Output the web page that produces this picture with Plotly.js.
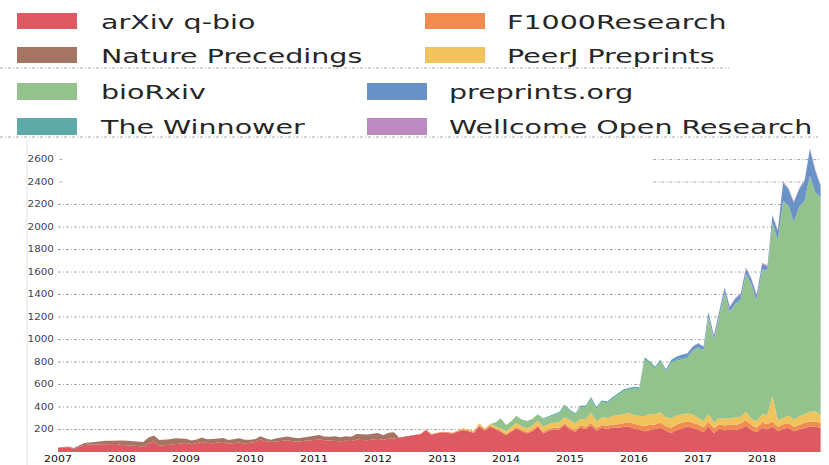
<!DOCTYPE html>
<html>
<head>
<meta charset="utf-8">
<script src="https://cdn.plot.ly/plotly-3.0.1.min.js"></script>
<style>
  html, body { margin: 0; padding: 0; background: #fff; }
  #chart { width: 829px; height: 465px; }
</style>
</head>
<body>
<div id="chart"></div>
<script>
// ---------------- DATA (monthly submissions, Jan 2007 - Dec 2018) ----------------
const seriesNames = ["arXiv q-bio", "Nature Precedings", "F1000Research", "PeerJ Preprints",
                     "bioRxiv", "The Winnower", "preprints.org", "Wellcome Open Research"];
const yearLabels = ["2007","2008","2009","2010","2011","2012","2013","2014","2015","2016","2017","2018"];
const yTickValues = [200,400,600,800,1000,1200,1400,1600,1800,2000,2200,2400,2600];

const arxivQbio = [
  35, 38, 42, 30, 45, 62, 66, 68, 70, 72, 70, 72,          // 2007
  62, 60, 56, 54, 45, 72, 100, 56, 60, 64, 70, 72,         // 2008
  80, 70, 78, 88, 80, 78, 84, 88, 74, 80, 84, 76,          // 2009
  82, 88, 112, 95, 88, 93, 98, 104, 96, 92, 98, 104,       // 2010
  106, 112, 104, 100, 102, 95, 100, 98, 110, 108, 105, 112, // 2011
  115, 108, 118, 120, 128, 132, 142, 148, 160, 195, 155, 165, // 2012
  175, 170, 165, 180, 195, 185, 170, 230, 190, 225, 205, 180, // 2013
  150, 180, 210, 185, 165, 185, 225, 165, 190, 200, 200, 240, // 2014
  200, 180, 215, 205, 235, 190, 215, 205, 215, 215, 220, 230, // 2015
  206, 200, 185, 195, 200, 215, 190, 170, 195, 206, 227, 215, // 2016
  200, 176, 227, 167, 206, 194, 200, 195, 205, 233, 195, 176, // 2017
  215, 200, 227, 185, 206, 215, 185, 200, 215, 227, 225, 215  // 2018
];
const naturePrecedings = [
  5, 6, 7, 5, 10, 17, 19, 24, 26, 28, 31, 31,               // 2007
  41, 40, 40, 42, 43, 57, 47, 50, 48, 50, 53, 51,           // 2008
  38, 33, 34, 41, 33, 38, 38, 37, 32, 36, 38, 32,           // 2009
  26, 27, 28, 25, 22, 29, 32, 34, 32, 30, 30, 31,           // 2010
  34, 40, 34, 35, 38, 37, 40, 38, 50, 50, 50, 50,           // 2011
  53, 42, 54, 55, 0, 0, 0, 0, 0, 0, 0, 0,                   // 2012
  0, 0, 0, 0, 0, 0, 0, 0, 0, 0, 0, 0,                       // 2013
  0, 0, 0, 0, 0, 0, 0, 0, 0, 0, 0, 0,                       // 2014
  0, 0, 0, 0, 0, 0, 0, 0, 0, 0, 0, 0,                       // 2015
  0, 0, 0, 0, 0, 0, 0, 0, 0, 0, 0, 0,                       // 2016
  0, 0, 0, 0, 0, 0, 0, 0, 0, 0, 0, 0,                       // 2017
  0, 0, 0, 0, 0, 0, 0, 0, 0, 0, 0, 0                        // 2018
];
const f1000Research = [
  0, 0, 0, 0, 0, 0, 0, 0, 0, 0, 0, 0,                       // 2007
  0, 0, 0, 0, 0, 0, 0, 0, 0, 0, 0, 0,                       // 2008
  0, 0, 0, 0, 0, 0, 0, 0, 0, 0, 0, 0,                       // 2009
  0, 0, 0, 0, 0, 0, 0, 0, 0, 0, 0, 0,                       // 2010
  0, 0, 0, 0, 0, 0, 0, 0, 0, 0, 0, 0,                       // 2011
  0, 0, 0, 0, 0, 0, 0, 0, 3, 5, 5, 6,                       // 2012
  6, 7, 7, 8, 8, 8, 8, 10, 10, 10, 10, 12,                  // 2013
  10, 10, 12, 12, 12, 12, 12, 14, 14, 15, 15, 15,           // 2014
  18, 18, 20, 20, 22, 22, 25, 28, 30, 32, 35, 35,           // 2015
  45, 40, 45, 50, 45, 48, 40, 45, 50, 55, 45, 45,           // 2016
  45, 45, 40, 45, 40, 42, 45, 45, 48, 50, 45, 40,           // 2017
  45, 50, 45, 40, 40, 40, 40, 40, 45, 45, 45, 45            // 2018
];
const peerjPreprints = [
  0, 0, 0, 0, 0, 0, 0, 0, 0, 0, 0, 0,                       // 2007
  0, 0, 0, 0, 0, 0, 0, 0, 0, 0, 0, 0,                       // 2008
  0, 0, 0, 0, 0, 0, 0, 0, 0, 0, 0, 0,                       // 2009
  0, 0, 0, 0, 0, 0, 0, 0, 0, 0, 0, 0,                       // 2010
  0, 0, 0, 0, 0, 0, 0, 0, 0, 0, 0, 0,                       // 2011
  0, 0, 0, 0, 0, 0, 0, 0, 0, 0, 0, 0,                       // 2012
  0, 0, 0, 5, 8, 10, 10, 15, 12, 15, 18, 20,                // 2013
  25, 30, 35, 30, 35, 38, 40, 45, 45, 45, 50, 55,           // 2014
  60, 55, 60, 65, 95, 60, 70, 70, 75, 80, 80, 85,           // 2015
  75, 80, 90, 95, 90, 90, 80, 85, 80, 75, 70, 75,           // 2016
  60, 55, 70, 50, 55, 60, 55, 65, 60, 75, 55, 55,           // 2017
  75, 80, 228, 60, 55, 70, 65, 75, 80, 85, 90, 70           // 2018
];
const bioRxiv = [
  0, 0, 0, 0, 0, 0, 0, 0, 0, 0, 0, 0,                       // 2007
  0, 0, 0, 0, 0, 0, 0, 0, 0, 0, 0, 0,                       // 2008
  0, 0, 0, 0, 0, 0, 0, 0, 0, 0, 0, 0,                       // 2009
  0, 0, 0, 0, 0, 0, 0, 0, 0, 0, 0, 0,                       // 2010
  0, 0, 0, 0, 0, 0, 0, 0, 0, 0, 0, 0,                       // 2011
  0, 0, 0, 0, 0, 0, 0, 0, 0, 0, 0, 0,                       // 2012
  0, 0, 0, 0, 0, 0, 0, 0, 0, 0, 30, 88,                     // 2013
  55, 55, 65, 63, 63, 60, 59, 70, 63, 70, 78, 98,           // 2014
  85, 80, 102, 110, 120, 112, 132, 131, 154, 177, 204, 204, // 2015
  238, 239, 505, 447, 409, 451, 404, 491, 486, 486, 492, 559, // 2016
  620, 621, 864, 729, 896, 1116, 941, 1007, 1039, 1223, 1192, 1071, // 2017
  1281, 1287, 1535, 1597, 1931, 1863, 1750, 1863, 1892, 2097, 1946, 1933 // 2018
];
const theWinnower = [
  0, 0, 0, 0, 0, 0, 0, 0, 0, 0, 0, 0,                       // 2007
  0, 0, 0, 0, 0, 0, 0, 0, 0, 0, 0, 0,                       // 2008
  0, 0, 0, 0, 0, 0, 0, 0, 0, 0, 0, 0,                       // 2009
  0, 0, 0, 0, 0, 0, 0, 0, 0, 0, 0, 0,                       // 2010
  0, 0, 0, 0, 0, 0, 0, 0, 0, 0, 0, 0,                       // 2011
  0, 0, 0, 0, 0, 0, 0, 0, 0, 0, 0, 0,                       // 2012
  0, 0, 0, 0, 0, 0, 0, 0, 0, 0, 0, 0,                       // 2013
  0, 0, 0, 0, 0, 0, 0, 6, 8, 10, 12, 12,                    // 2014
  12, 12, 14, 14, 16, 16, 16, 16, 16, 16, 16, 16,           // 2015
  16, 16, 18, 18, 16, 16, 16, 14, 14, 12, 12, 10,           // 2016
  10, 8, 8, 8, 6, 6, 6, 5, 5, 5, 4, 4,                      // 2017
  3, 3, 3, 3, 2, 2, 2, 2, 2, 2, 2, 2                        // 2018
];
const preprintsOrg = [
  0, 0, 0, 0, 0, 0, 0, 0, 0, 0, 0, 0,                       // 2007
  0, 0, 0, 0, 0, 0, 0, 0, 0, 0, 0, 0,                       // 2008
  0, 0, 0, 0, 0, 0, 0, 0, 0, 0, 0, 0,                       // 2009
  0, 0, 0, 0, 0, 0, 0, 0, 0, 0, 0, 0,                       // 2010
  0, 0, 0, 0, 0, 0, 0, 0, 0, 0, 0, 0,                       // 2011
  0, 0, 0, 0, 0, 0, 0, 0, 0, 0, 0, 0,                       // 2012
  0, 0, 0, 0, 0, 0, 0, 0, 0, 0, 0, 0,                       // 2013
  0, 0, 0, 0, 0, 0, 0, 0, 0, 0, 0, 0,                       // 2014
  0, 0, 0, 0, 0, 0, 0, 0, 0, 0, 0, 0,                       // 2015
  0, 0, 0, 0, 0, 0, 5, 15, 25, 30, 30, 30,                  // 2016
  30, 30, 35, 35, 40, 40, 40, 45, 45, 45, 45, 45,           // 2017
  50, 30, 60, 80, 160, 145, 175, 155, 175, 235, 190, 100    // 2018
];
const wellcomeOpenResearch = [
  0, 0, 0, 0, 0, 0, 0, 0, 0, 0, 0, 0,                       // 2007
  0, 0, 0, 0, 0, 0, 0, 0, 0, 0, 0, 0,                       // 2008
  0, 0, 0, 0, 0, 0, 0, 0, 0, 0, 0, 0,                       // 2009
  0, 0, 0, 0, 0, 0, 0, 0, 0, 0, 0, 0,                       // 2010
  0, 0, 0, 0, 0, 0, 0, 0, 0, 0, 0, 0,                       // 2011
  0, 0, 0, 0, 0, 0, 0, 0, 0, 0, 0, 0,                       // 2012
  0, 0, 0, 0, 0, 0, 0, 0, 0, 0, 0, 0,                       // 2013
  0, 0, 0, 0, 0, 0, 0, 0, 0, 0, 0, 0,                       // 2014
  0, 0, 0, 0, 0, 0, 0, 0, 0, 0, 0, 0,                       // 2015
  0, 0, 0, 0, 0, 0, 0, 0, 0, 0, 3, 5,                       // 2016
  5, 5, 6, 6, 7, 7, 8, 8, 8, 9, 9, 9,                       // 2017
  10, 10, 10, 10, 10, 10, 10, 10, 10, 10, 10, 10            // 2018
];

// month start dates (x categories)
const months = [];
yearLabels.forEach(y => { for (let m = 1; m <= 12; m++) months.push(y + "-" + String(m).padStart(2, "0") + "-01"); });

// ---------------- STYLE ----------------
const colors = {
  "arXiv q-bio": "#de5a62",
  "Nature Precedings": "#a57462",
  "F1000Research": "#f08c50",
  "PeerJ Preprints": "#f0c35c",
  "bioRxiv": "#93c28d",
  "The Winnower": "#5eaaa8",
  "preprints.org": "#6993c6",
  "Wellcome Open Research": "#bb8ac0"
};
const seriesData = {
  "arXiv q-bio": arxivQbio,
  "Nature Precedings": naturePrecedings,
  "F1000Research": f1000Research,
  "PeerJ Preprints": peerjPreprints,
  "bioRxiv": bioRxiv,
  "The Winnower": theWinnower,
  "preprints.org": preprintsOrg,
  "Wellcome Open Research": wellcomeOpenResearch
};

const traces = seriesNames.map(name => ({
  type: "scatter",
  x: months,
  y: seriesData[name],
  name: name,
  stackgroup: "one",
  mode: "lines",
  line: { width: 0, color: colors[name] },
  fillcolor: colors[name],
  hoverinfo: "skip",
  showlegend: false
}));

// geometry helpers (pixel -> paper), plot area: x 58..829, y 140..452
const L = 58, W = 771, T = 140, H = 312;
const px = x => (x - L) / W;
const py = y => (T + H - y) / H;

const shapes = [];
const gridStyle = { color: "#a8a8a8", width: 1, dash: "3px,2px,1px,2px" };
yTickValues.forEach(v => {
  if (v <= 2200) {
    shapes.push({ type: "line", xref: "x", yref: "y", x0: "2007-01-01", x1: "2018-12-01", y0: v, y1: v, line: gridStyle, layer: "below" });
  } else {
    shapes.push({ type: "line", xref: "x", yref: "y", x0: "2016-04-20", x1: "2018-12-01", y0: v, y1: v, line: gridStyle, layer: "below" });
    shapes.push({ type: "line", xref: "x", yref: "y", x0: "2007-01-10", x1: "2007-01-25", y0: v, y1: v, line: { color: "#a8a8a8", width: 1 }, layer: "below" });
  }
});
// faint dotted lines between the legend blocks
shapes.push({ type: "line", xref: "paper", yref: "paper", x0: px(0), x1: px(729), y0: py(68), y1: py(68), line: gridStyle });
shapes.push({ type: "line", xref: "paper", yref: "paper", x0: px(0), x1: px(818), y0: py(137), y1: py(137), line: gridStyle });
// left spine
shapes.push({ type: "line", xref: "paper", yref: "paper", x0: px(27), x1: px(27), y0: py(465), y1: py(140), line: { color: "#e2e2e2", width: 1 } });

// legend (swatches + labels)
const legendItems = [
  { name: "arXiv q-bio",            sx: 17,  tx: 99,  top: 13,  bot: 29,  cy: 21.5 },
  { name: "Nature Precedings",      sx: 17,  tx: 99,  top: 47,  bot: 63,  cy: 56 },
  { name: "bioRxiv",                sx: 17,  tx: 99,  top: 83,  bot: 100, cy: 92 },
  { name: "The Winnower",           sx: 17,  tx: 99,  top: 118, bot: 135, cy: 127 },
  { name: "F1000Research",          sx: 425, tx: 505, top: 13,  bot: 29,  cy: 21.5 },
  { name: "PeerJ Preprints",        sx: 425, tx: 505, top: 47,  bot: 63,  cy: 56 },
  { name: "preprints.org",          sx: 367, tx: 447, top: 83,  bot: 100, cy: 92 },
  { name: "Wellcome Open Research", sx: 367, tx: 447, top: 118, bot: 135, cy: 127 }
];
const annotations = [];
legendItems.forEach(it => {
  shapes.push({ type: "rect", xref: "paper", yref: "paper", x0: px(it.sx), x1: px(it.sx + 60), y0: py(it.bot), y1: py(it.top), fillcolor: colors[it.name], line: { width: 0 } });
  annotations.push({ xref: "paper", yref: "paper", x: px(it.tx), y: py(it.cy), xanchor: "left", yanchor: "middle",
    text: it.name, showarrow: false, font: { family: "DejaVu Sans", size: 19, color: "#262626" } });
});

const layout = {
  width: 829, height: 465,
  margin: { l: L, r: 0, t: T, b: 465 - T - H, pad: 0 },
  paper_bgcolor: "#ffffff", plot_bgcolor: "#ffffff",
  showlegend: false,
  xaxis: {
    type: "date",
    range: ["2007-01-01", "2019-01-18"],
    tickvals: yearLabels.map(y => y + "-01-01"),
    ticktext: yearLabels,
    showgrid: false, zeroline: false, showline: false, ticks: "",
    ticklabelstandoff: 0,
    tickfont: { family: "DejaVu Sans", size: 9, color: "#111111" }
  },
  yaxis: {
    range: [0, H / 0.1125],
    tickvals: yTickValues,
    ticktext: yTickValues.map(String),
    showgrid: false, zeroline: false, showline: false, ticks: "",
    ticklabelstandoff: 3,
    tickfont: { family: "DejaVu Sans", size: 8, color: "#444444" }
  },
  shapes: shapes,
  annotations: annotations
};

function stretchText(el, f, keepLeft) {
  try {
    const bb = el.getBBox();
    const w = el.getComputedTextLength();
    if (!w) return;
    if (keepLeft) { el.setAttribute("text-anchor", "start"); el.setAttribute("x", bb.x); }
    el.setAttribute("textLength", (w * f).toFixed(2));
    el.setAttribute("lengthAdjust", "spacingAndGlyphs");
  } catch (e) {}
}

Plotly.newPlot("chart", traces, layout, { staticPlot: true, displayModeBar: false }).then(gd => {
  gd.querySelectorAll(".annotation-text").forEach(el => stretchText(el, 1.5, true));
  gd.querySelectorAll(".xtick text").forEach(el => stretchText(el, 1.22, false));
  gd.querySelectorAll(".ytick text").forEach(el => stretchText(el, 1.3, false));
});
</script>
</body>
</html>
